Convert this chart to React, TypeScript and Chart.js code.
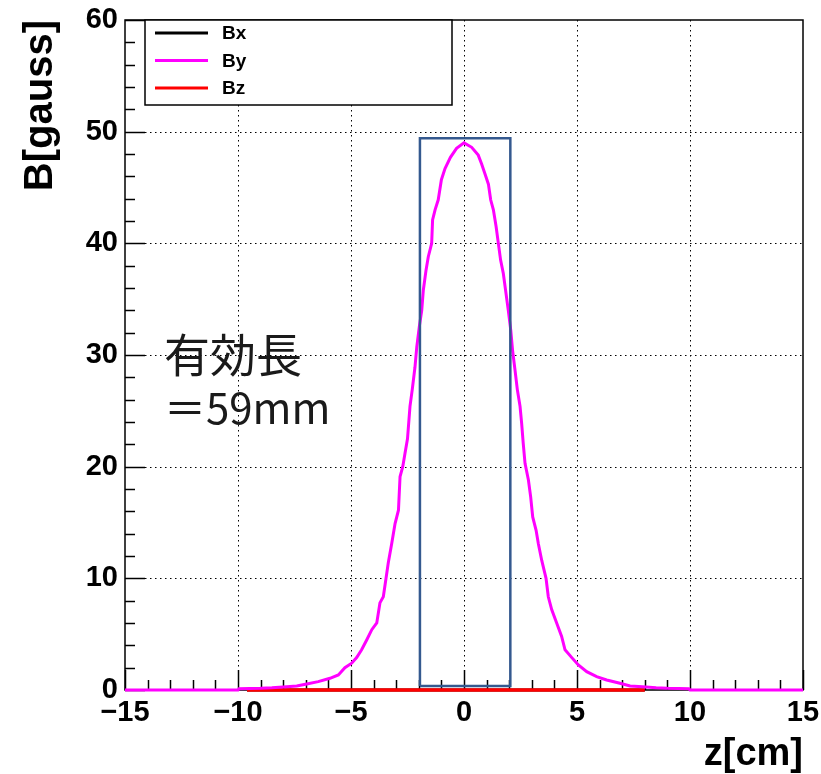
import { useEffect, useRef } from 'react';
import { Chart, registerables } from 'chart.js';

Chart.register(...registerables);

// ---- data ----
const SERIES_LABELS = ['Bx', 'By', 'Bz'];
const SERIES_COLORS = ['#000000', '#ff00ff', '#ff0000'];

const Z_BY = [
  -15, -10, -9.95, -9, -8.5, -7.85, -7.4, -6.96, -6.45, -5.93, -5.56, -5.27, -4.97, -4.75,
  -4.53, -4.3, -4.08, -3.86, -3.72, -3.57, -3.45, -3.35, -3.2, -3.05, -2.9, -2.83, -2.71,
  -2.61, -2.5, -2.39, -2.29, -2.17, -2.09, -1.98, -1.87, -1.8, -1.68, -1.58, -1.43, -1.39,
  -1.28, -1.14, -1.0, -0.84, -0.6, -0.33, 0, 0.34, 0.63, 0.78, 0.93, 1.08, 1.18, 1.3, 1.42,
  1.52, 1.62, 1.74, 1.86, 1.96, 2.07, 2.15, 2.26, 2.36, 2.48, 2.55, 2.62, 2.7, 2.85, 2.95,
  3.04, 3.19, 3.29, 3.44, 3.63, 3.73, 3.88, 4.1, 4.32, 4.47, 4.77, 5.06, 5.43, 5.87, 6.31,
  6.9, 7.35, 7.9, 8.5, 9.0, 9.95, 10, 15,
];
const B_BY = [
  0, 0, 0.12, 0.15, 0.2, 0.3, 0.36, 0.54, 0.75, 1.05, 1.35, 2.0, 2.4, 2.9,
  3.6, 4.5, 5.4, 6.0, 7.8, 8.35, 10.0, 11.4, 13.1, 14.9, 16.1, 19.1, 20.0,
  21.2, 22.5, 25.4, 26.9, 28.9, 30.7, 32.5, 34.0, 35.8, 37.6, 38.8, 40.0, 42.1,
  43.0, 43.9, 45.7, 46.7, 47.7, 48.5, 49.0, 48.6, 47.9, 47.1, 46.2, 45.3, 43.9, 43.0, 41.5,
  40.0, 38.5, 37.3, 35.5, 34.0, 32.2, 30.4, 28.6, 26.9, 25.4, 23.9, 22.1, 20.3, 18.8, 17.3,
  15.5, 14.3, 13.1, 11.6, 10.0, 8.35, 7.2, 6.0, 4.8, 3.6, 2.9, 2.24, 1.64, 1.19, 0.9,
  0.6, 0.36, 0.3, 0.2, 0.15, 0.12, 0, 0,
];
const Z_BZ = [-9.6, 8.0];
const B_BZ = [0, 0];
const Z_BX = [-9.6, 8.0];
const B_BX = [0, 0];

// effective-length box
const Z_BOX = [-1.95, -1.95, 2.05, 2.05, -1.95];
const B_BOX = [0.35, 49.4, 49.4, 0.35, 0.35];

const X_MIN = -15;
const X_MAX = 15;
const Y_MIN = 0;
const Y_MAX = 60;
const X_STEP = 5;
const Y_STEP = 10;
const X_MINOR = 1;
const Y_MINOR = 2;

const X_TITLE = 'z[cm]';
const Y_TITLE = 'B[gauss]';
const NOTE_LINES = ['有効長', '＝59mm'];

const pts = (xs: number[], ys: number[]) => xs.map((x, i) => ({ x, y: ys[i] }));

const FONT = "'Liberation Sans', Arial, Helvetica, sans-serif";

const rootPlugin = {
  id: 'rootStyle',
  beforeDatasetsDraw(chart: any) {
    const { ctx, chartArea: a, scales } = chart;
    const x = scales.x;
    const y = scales.y;
    ctx.save();
    ctx.strokeStyle = '#000';
    ctx.lineWidth = 1;
    ctx.setLineDash([1.5, 3.5]);
    for (const t of x.ticks) {
      if (t.value <= X_MIN || t.value >= X_MAX) continue;
      const px = Math.round(x.getPixelForValue(t.value)) + 0.5;
      ctx.beginPath();
      ctx.moveTo(px, a.top);
      ctx.lineTo(px, a.bottom);
      ctx.stroke();
    }
    for (const t of y.ticks) {
      if (t.value <= Y_MIN || t.value >= Y_MAX) continue;
      const py = Math.round(y.getPixelForValue(t.value)) + 0.5;
      ctx.beginPath();
      ctx.moveTo(a.left, py);
      ctx.lineTo(a.right, py);
      ctx.stroke();
    }
    ctx.setLineDash([]);
    // inward ticks
    ctx.lineWidth = 1.5;
    for (let v = X_MIN; v <= X_MAX + 1e-9; v += X_MINOR) {
      const major = Math.abs(v % X_STEP) < 1e-9;
      const px = Math.round(x.getPixelForValue(v)) + 0.5;
      ctx.beginPath();
      ctx.moveTo(px, a.bottom);
      ctx.lineTo(px, a.bottom - (major ? 20 : 10));
      ctx.stroke();
    }
    for (let v = Y_MIN; v <= Y_MAX + 1e-9; v += Y_MINOR) {
      const major = Math.abs(v % Y_STEP) < 1e-9;
      const py = Math.round(y.getPixelForValue(v)) + 0.5;
      ctx.beginPath();
      ctx.moveTo(a.left, py);
      ctx.lineTo(a.left + (major ? 20 : 10), py);
      ctx.stroke();
    }
    // frame
    ctx.lineWidth = 1.5;
    ctx.strokeRect(a.left, a.top, a.right - a.left, a.bottom - a.top);
    ctx.restore();
  },
  afterDatasetsDraw(chart: any) {
    const { ctx, chartArea: a } = chart;
    ctx.save();
    ctx.setLineDash([]);
    ctx.strokeStyle = '#000';

    // legend
    const lx = a.left + 20;
    const ly = a.top;
    const lw = 307;
    const lh = 85;
    ctx.fillStyle = '#fff';
    ctx.fillRect(lx, ly, lw, lh);
    ctx.lineWidth = 1.5;
    ctx.strokeRect(lx, ly, lw, lh);
    const items = chart.data.datasets.filter((d: any) => SERIES_LABELS.includes(d.label));
    items.sort((p: any, q: any) => SERIES_LABELS.indexOf(p.label) - SERIES_LABELS.indexOf(q.label));
    ctx.font = `bold 19px ${FONT}`;
    ctx.textBaseline = 'middle';
    ctx.textAlign = 'left';
    items.forEach((d: any, i: number) => {
      const cy = ly + 13 + i * 27.5;
      ctx.strokeStyle = d.borderColor;
      ctx.lineWidth = 3;
      ctx.beginPath();
      ctx.moveTo(lx + 10, cy);
      ctx.lineTo(lx + 63, cy);
      ctx.stroke();
      ctx.fillStyle = '#000';
      ctx.fillText(d.label, lx + 77, cy + 1);
    });

    // note text
    ctx.fillStyle = '#1a1a1a';
    ctx.textBaseline = 'alphabetic';
    ctx.font = `400 46px 'Noto Sans CJK JP', 'Noto Sans', sans-serif`;
    ctx.fillText(NOTE_LINES[0], a.left + 39, a.top + 352);
    ctx.font = `400 42px 'Noto Sans CJK JP', 'Noto Sans', sans-serif`;
    ctx.fillText(NOTE_LINES[1], a.left + 39, a.top + 404);
    ctx.restore();
  },
};

export default function App() {
  const ref = useRef<HTMLCanvasElement | null>(null);

  useEffect(() => {
    document.body.style.margin = '0';
    const canvas = ref.current;
    if (!canvas) return;
    const chart = new Chart(canvas, {
      type: 'line',
      data: {
        datasets: [
          {
            label: SERIES_LABELS[0],
            data: pts(Z_BX, B_BX),
            borderColor: SERIES_COLORS[0],
            borderWidth: 3,
            pointRadius: 0,
            order: 3,
            clip: false as any,
          },
          {
            label: SERIES_LABELS[1],
            data: pts(Z_BY, B_BY),
            borderColor: SERIES_COLORS[1],
            borderWidth: 3,
            pointRadius: 0,
            order: 1,
            clip: false as any,
          },
          {
            label: SERIES_LABELS[2],
            data: pts(Z_BZ, B_BZ),
            borderColor: SERIES_COLORS[2],
            borderWidth: 3.5,
            pointRadius: 0,
            order: 2,
            clip: false as any,
          },
          {
            label: 'box',
            data: pts(Z_BOX, B_BOX),
            borderColor: '#34598f',
            borderWidth: 2.5,
            pointRadius: 0,
            order: 0,
          },
        ],
      },
      options: {
        responsive: false,
        animation: false,
        devicePixelRatio: 1,
        parsing: false as any,
        layout: { padding: { left: 0, right: 18, top: 20, bottom: 0 } },
        plugins: {
          legend: { display: false },
          tooltip: { enabled: false },
        },
        scales: {
          x: {
            type: 'linear',
            min: X_MIN,
            max: X_MAX,
            grid: { display: false, drawTicks: false },
            border: { display: false },
            ticks: {
              stepSize: X_STEP,
              autoSkip: false,
              maxRotation: 0,
              padding: 6,
              color: '#000',
              font: { family: FONT, size: 29, weight: 'bold' },
              callback: (v: any) => (Number(v) < 0 ? '\u2212' + Math.abs(Number(v)) : String(v)),
            },
            title: {
              display: true,
              text: X_TITLE,
              align: 'end',
              color: '#000',
              padding: { top: 0, bottom: 0 },
              font: { family: FONT, size: 38, weight: 'bold', lineHeight: 1 },
            },
            afterFit: (s: any) => {
              s.height = 84;
              s.paddingLeft = 0;
              s.paddingRight = 0;
            },
          },
          y: {
            type: 'linear',
            min: Y_MIN,
            max: Y_MAX,
            grid: { display: false, drawTicks: false },
            border: { display: false },
            ticks: {
              stepSize: Y_STEP,
              autoSkip: false,
              padding: 7,
              color: '#000',
              font: { family: FONT, size: 29, weight: 'bold' },
            },
            title: {
              display: true,
              text: Y_TITLE,
              align: 'end',
              color: '#000',
              padding: { top: 21, bottom: 0 },
              font: { family: FONT, size: 40, weight: 'bold', lineHeight: 1 },
            },
            afterFit: (s: any) => {
              s.width = 125;
              s.paddingTop = 0;
              s.paddingBottom = 0;
            },
          },
        },
      },
      plugins: [rootPlugin],
    });
    return () => chart.destroy();
  }, []);

  return (
    <div style={{ position: 'fixed', left: 0, top: 0, width: 821, height: 774, background: '#fff' }}>
      <canvas ref={ref} width={821} height={774} style={{ width: 821, height: 774, display: 'block' }} />
    </div>
  );
}
